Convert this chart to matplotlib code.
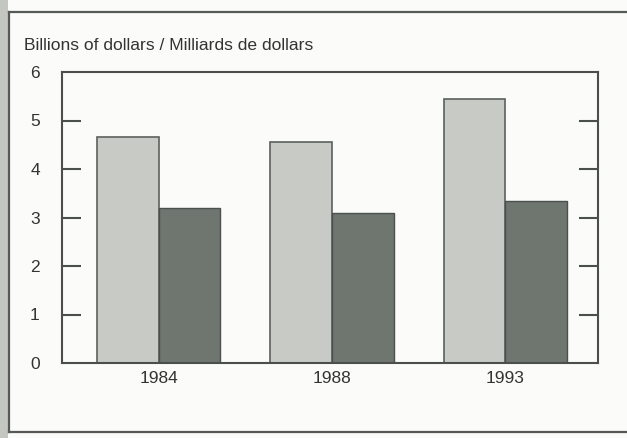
import matplotlib.pyplot as plt
import numpy as np
from matplotlib.patches import Rectangle
from matplotlib.lines import Line2D

years = ['1984', '1988', '1993']
series_a = [4.65, 4.55, 5.45]
series_b = [3.2, 3.1, 3.35]
y_ticks = [0, 1, 2, 3, 4, 5, 6]

plt.rcParams['font.family'] = ['Liberation Sans', 'DejaVu Sans']

fig = plt.figure(figsize=(6.27, 4.38), dpi=100)
fig.patch.set_facecolor('#fbfbf9')

# outer frame of the panel
fig.patches.append(Rectangle((0, 0), 8 / 627, 1, transform=fig.transFigure,
                             facecolor='#c4c6c2', edgecolor='none'))
fig.lines.append(Line2D([9 / 627, 9 / 627], [6 / 438, 1 - 12 / 438],
                        transform=fig.transFigure, color='#555a57', lw=1.6))
fig.lines.append(Line2D([9 / 627, 1], [1 - 12 / 438, 1 - 12 / 438],
                        transform=fig.transFigure, color='#555a57', lw=1.6))
fig.lines.append(Line2D([9 / 627, 1], [6 / 438, 6 / 438],
                        transform=fig.transFigure, color='#555a57', lw=1.6))

ax = fig.add_axes([62 / 627, 1 - 363 / 438, 536 / 627, 291 / 438])
ax.set_facecolor('#fbfbf9')

x = np.arange(len(years))
w = 0.356
ax.bar(x - w / 2, series_a, w, color='#c8cac6', edgecolor='#5c615e', linewidth=1.2)
ax.bar(x + w / 2, series_b, w, color='#6f756f', edgecolor='#4a504c', linewidth=1.0)

ax.set_xlim(-0.557, 2.534)
ax.set_ylim(0, 6)
ax.set_yticks(y_ticks)
ax.set_xticks(x)
ax.set_xticklabels(years)

for s in ax.spines.values():
    s.set_color('#4a4f4c')
    s.set_linewidth(1.5)

ax.tick_params(axis='y', direction='in', length=14, width=1.5, color='#4a4f4c',
               right=True, labelsize=12.5, labelcolor='#333', pad=16)
ax.tick_params(axis='x', length=0, labelsize=12.5, labelcolor='#333', pad=6)
# hide the 0 and 6 tick marks, labels stay
for t in (ax.yaxis.get_major_ticks()[0], ax.yaxis.get_major_ticks()[-1]):
    t.tick1line.set_visible(False)
    t.tick2line.set_visible(False)

fig.text(24 / 627, 1 - 46 / 438, 'Billions of dollars / Milliards de dollars',
         fontsize=12.6, color='#333', va='center', ha='left')

plt.savefig('out.png', dpi=100)
